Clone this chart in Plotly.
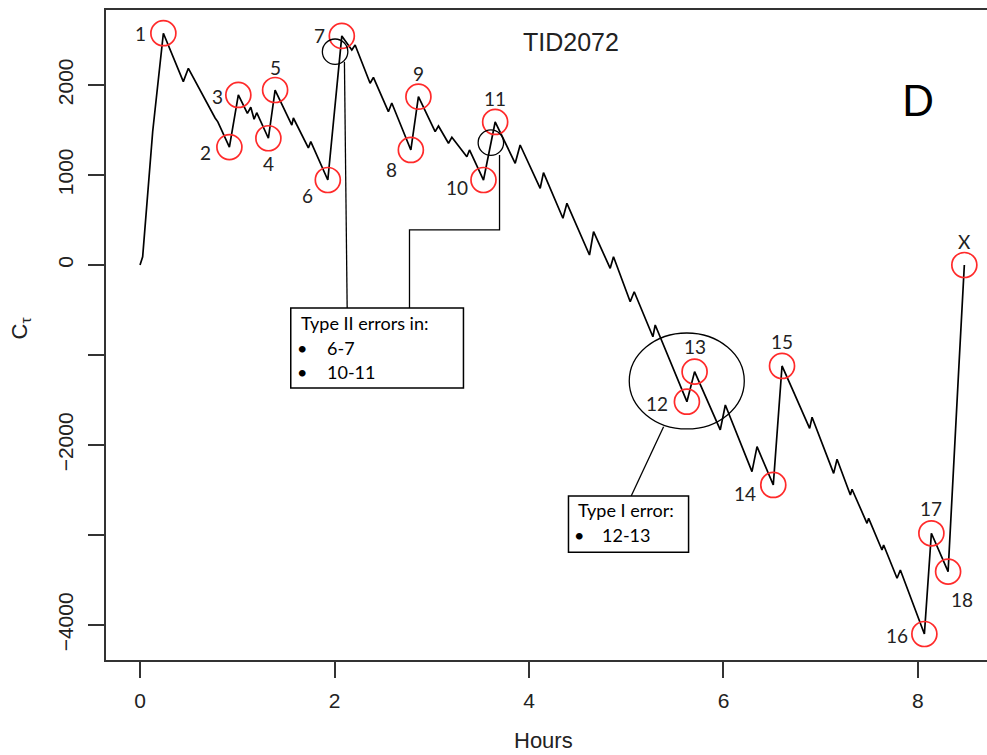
import plotly.graph_objects as go

# ---- data ----
hours = [0, 0.027, 0.13, 0.145, 0.24, 0.445, 0.497, 0.772, 0.80, 0.919,
         1.011, 1.104, 1.139, 1.173, 1.200, 1.320, 1.389, 1.561, 1.577, 1.731,
         1.756, 1.931, 2.075, 2.178, 2.212, 2.366, 2.400, 2.554, 2.589, 2.785,
         2.863, 3.035, 3.069, 3.172, 3.207, 3.361, 3.388, 3.532, 3.652, 3.858,
         3.909, 4.115, 4.149, 4.349, 4.390, 4.622, 4.664, 4.835, 4.869, 5.041,
         5.082, 5.274, 5.298, 5.624, 5.703, 5.967, 6.019, 6.293, 6.345, 6.512,
         6.602, 6.705, 6.886, 6.911, 7.133, 7.168, 7.305, 7.322, 7.476, 7.493,
         7.630, 7.647, 7.785, 7.819, 8.066, 8.138, 8.310, 8.419, 8.477]
c_tau = [0, 90, 1480, 1620, 2575, 2037, 2185, 1633, 1590, 1310,
         1889, 1685, 1752, 1619, 1692, 1408, 1944, 1555, 1633, 1300,
         1370, 944, 2545, 2389, 2444, 2019, 2085, 1703, 1800, 1278,
         1870, 1481, 1544, 1352, 1419, 1203, 1278, 944, 1589, 1130,
         1333, 852, 1026, 519, 685, 111, 370, -37, 92, -408,
         -297, -797, -667, -1519, -1185, -1833, -1556, -2296, -2019, -2444,
         -1122, -1370, -1815, -1692, -2315, -2159, -2556, -2492, -2870, -2815,
         -3167, -3111, -3481, -3389, -4100, -2981, -3407, -1167, 0]

marked_idx = [4, 9, 10, 15, 16, 21, 22, 29, 30, 37, 38, 53, 54, 59, 60, 74, 75, 76, 78]
marked_labels = ["1", "2", "3", "4", "5", "6", "7", "8", "9", "10", "11",
                 "12", "13", "14", "15", "16", "17", "18", "X"]
# label offsets in pixels (styling)
label_dx = [-23, -24, -21, 0, 0, -20, -22, -19, 0, -26, 0, -30, 0, -28, 0, -27, 0, 14, 0]
label_dy = [0, -5, -2, -25, 23, -15, 0, -20, 23, -7, 23, -2, 25, -9, 24, -2, 25, -28, 23]

x_ticks = [0, 2, 4, 6, 8]
y_ticks = [-4000, -2000, 0, 1000, 2000]
y_ticktext = ["\u22124000", "\u22122000", "0", "1000", "2000"]
y_unlabeled_ticks = [-3000, -1000]

mx = [hours[i] for i in marked_idx]
my = [c_tau[i] for i in marked_idx]

fig = go.Figure()
fig.add_trace(go.Scatter(x=hours, y=c_tau, mode="lines",
                         line=dict(color="black", width=1.7), hoverinfo="skip"))
fig.add_trace(go.Scatter(x=mx, y=my, mode="markers",
                         marker=dict(symbol="circle-open", size=25, color="#ff2a2a",
                                     line=dict(width=1.7)), hoverinfo="skip"))

annots = []
for x, y, t, dx, dy in zip(mx, my, marked_labels, label_dx, label_dy):
    annots.append(dict(x=x, y=y, text=t, showarrow=False, xshift=dx, yshift=dy,
                       xanchor="center", yanchor="middle",
                       font=dict(family="Lato", size=19, color="#222")))

box_font = dict(family="Lato", size=18, color="black")
def box_txt(x, y, t, anchor="left"):
    return dict(x=x, y=y, text=t, xanchor=anchor, yanchor="middle",
                showarrow=False, font=box_font)

annots += [
    box_txt(1.636, -644, "Type II errors in:"),
    box_txt(1.667, -922, "\u2022", "center"),
    box_txt(1.903, -922, "6-7"),
    box_txt(1.667, -1189, "\u2022", "center"),
    box_txt(1.903, -1189, "10-11"),
    box_txt(4.486, -2722, "Type I error:"),
    box_txt(4.516, -3000, "\u2022", "center"),
    box_txt(4.733, -3000, "12-13"),
    dict(xref="paper", yref="paper", x=0.528, y=0.951, text="TID2072", showarrow=False,
         xanchor="center", yanchor="middle",
         font=dict(family="Liberation Sans", size=25, color="#222")),
    dict(xref="paper", yref="paper", x=0.9217, y=0.8615, text="D", showarrow=False,
         xanchor="center", yanchor="middle",
         font=dict(family="Lato", size=42, color="black")),
    dict(xref="paper", yref="paper", x=0.497, y=-0.1246, text="Hours", showarrow=False,
         xanchor="center", yanchor="middle",
         font=dict(family="Liberation Sans", size=22, color="#222")),
    dict(xref="paper", yref="paper", x=-0.0976, y=0.51, text="C<sub>\u03c4</sub>", showarrow=False,
         xanchor="center", yanchor="middle",
         textangle=-90, font=dict(family="Liberation Sans", size=22, color="#222")),
]

ln = dict(color="black", width=1.3)
shapes = [
    dict(type="circle", xref="x", yref="y", x0=1.875, x1=2.137, y0=2229, y1=2511, line=ln),
    dict(type="line", xref="x", yref="y", x0=2.102, y0=2259, x1=2.130, y1=-478, line=ln),
    dict(type="path", xref="x", yref="y", path="M 2.771,-478 L 2.771,389 L 3.697,389 L 3.697,1222", line=ln),
    dict(type="circle", xref="x", yref="y", x0=3.477, x1=3.739, y0=1218, y1=1500, line=ln),
    dict(type="rect", xref="x", yref="y", x0=1.550, x1=3.326, y0=-1367, y1=-478,
         line=dict(color="black", width=1.5), fillcolor="white"),
    dict(type="line", xref="x", yref="y", x0=5.051, y0=-2567, x1=5.384, y1=-1797, line=ln),
    dict(type="circle", xref="x", yref="y", x0=5.031, x1=6.214, y0=-1822, y1=-756, line=ln),
    dict(type="rect", xref="x", yref="y", x0=4.406, x1=5.641, y0=-3192, y1=-2567,
         line=dict(color="black", width=1.5), fillcolor="white"),
]

fig.update_layout(
    width=987, height=755,
    margin=dict(l=106, r=0, t=10, b=95),
    paper_bgcolor="white", plot_bgcolor="white",
    showlegend=False,
    annotations=annots, shapes=shapes,
    xaxis=dict(range=[-0.35, 8.71], tickvals=x_ticks, ticks="outside", ticklen=16,
               tickwidth=1.5, tickcolor="#333", showline=True, linecolor="#333",
               linewidth=1.8, mirror=True, showgrid=False, zeroline=False,
               ticklabelstandoff=5,
               tickfont=dict(family="Liberation Sans", size=21, color="#222")),
    yaxis=dict(range=[-4389, 2833], tickvals=y_ticks, ticktext=y_ticktext,
               ticks="outside", ticklen=16, tickwidth=1.5, tickcolor="#333",
               minor=dict(tickmode="array", tickvals=y_unlabeled_ticks, ticks="outside",
                          ticklen=16, tickwidth=1.5, tickcolor="#333", showgrid=False),
               showline=True, linecolor="#333", linewidth=1.8, mirror=False,
               showgrid=False, zeroline=False, tickangle=-90, ticklabelstandoff=7,
               tickfont=dict(family="Liberation Sans", size=21, color="#222")),
)

fig.write_html("out.html")
